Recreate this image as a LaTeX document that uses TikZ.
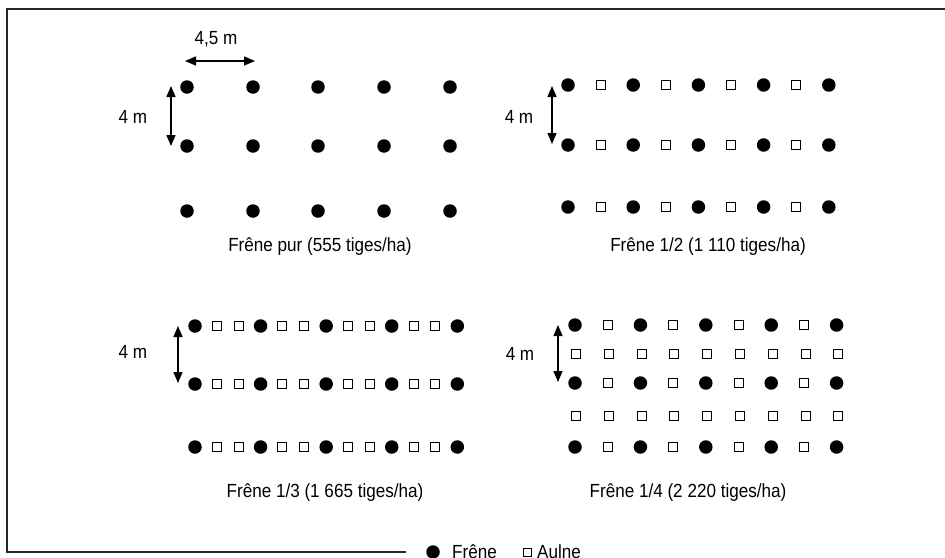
\documentclass[tikz,border=0pt]{standalone}
\usepackage{fontspec}
\setmainfont[FakeStretch=0.9]{Liberation Sans}
\usetikzlibrary{arrows.meta}

\tikzset{
	frene/.style={circle,fill=black,inner sep=0pt,minimum size=13.5pt},
	aulne/.style={draw=black,line width=1pt,fill=white,inner sep=0pt,minimum size=9pt},
	cote/.style={line width=1.3pt,{Triangle[length=11pt,width=9pt]}-{Triangle[length=11pt,width=9pt]}},
	cadre/.style={line width=2pt,black!85},
	txt/.style={anchor=base,inner sep=0pt}
}

\begin{document}
\begin{tikzpicture}[x=1pt,y=-1pt,font=\fontsize{19}{21}\selectfont]
	\useasboundingbox (0,0) rectangle (945,557);
	\draw[cadre] (945,9) -- (7,9) -- (7,552) -- (406,552);
	
	% Frene pur
	\foreach \x [count=\c] in {187,253,318,384,450}
		\foreach \y [count=\r] in {87,146,211}
			\node[frene] (a-\c-\r) at (\x,\y) {};
	\coordinate (ha) at (185,61);
	\coordinate (hb) at (255,61);
	\draw[cote] (ha) -- (hb);
	\node[txt] (la) at (216,44.5) {4,5 m};
	\coordinate (va) at (171,86);
	\coordinate (vb) at (171,146);
	\draw[cote] (va) -- (vb);
	\node[txt] (lb) at (133,123) {4 m};
	\node[txt] (ta) at (320,251) {Frêne pur (555 tiges/ha)};
	
	% Frene 1/2
	\foreach \i in {0,2,4,6,8}
		\foreach \y [count=\r] in {85,145,207}
			\node[frene] (b-\i-\r) at (568+32.6*\i,\y) {};
	\foreach \i in {1,3,5,7}
		\foreach \y [count=\r] in {85,145,207}
			\node[aulne] (b-\i-\r) at (568+32.6*\i,\y) {};
	\coordinate (vc) at (552,86);
	\coordinate (vd) at (552,144);
	\draw[cote] (vc) -- (vd);
	\node[txt] (lc) at (519,123) {4 m};
	\node[txt] (tb) at (708,251) {Frêne 1/2 (1 110 tiges/ha)};
	
	% Frene 1/3
	\foreach \i in {0,3,6,9,12}
		\foreach \y [count=\r] in {326,384,447}
			\node[frene] (c-\i-\r) at (195+21.86*\i,\y) {};
	\foreach \i in {1,2,4,5,7,8,10,11}
		\foreach \y [count=\r] in {326,384,447}
			\node[aulne] (c-\i-\r) at (195+21.86*\i,\y) {};
	\coordinate (ve) at (178,326);
	\coordinate (vf) at (178,383);
	\draw[cote] (ve) -- (vf);
	\node[txt] (ld) at (133,358) {4 m};
	\node[txt] (tc) at (325,497.5) {Frêne 1/3 (1 665 tiges/ha)};
	
	% Frene 1/4
	\foreach \i in {0,2,4,6,8}
		\foreach \y [count=\r] in {325,383,447}
			\node[frene] (d-\i-\r) at (575+32.7*\i,\y) {};
	\foreach \i in {1,3,5,7}
		\foreach \y [count=\r] in {325,383,447}
			\node[aulne] (d-\i-\r) at (575+32.7*\i,\y) {};
	\foreach \i in {0,...,8}
		\foreach \y [count=\r] in {354,416}
			\node[aulne] (e-\i-\r) at (576+32.8*\i,\y) {};
	\coordinate (vg) at (558,325);
	\coordinate (vh) at (558,382);
	\draw[cote] (vg) -- (vh);
	\node[txt] (le) at (520,360) {4 m};
	\node[txt] (td) at (688,497.5) {Frêne 1/4 (2 220 tiges/ha)};
	
	% legende
	\node[frene] (kf) at (433,552) {};
	\node[txt,anchor=base west] (kft) at (452,558) {Frêne};
	\node[aulne,minimum size=8pt] (ka) at (527,552) {};
	\node[txt,anchor=base west] (kat) at (537,558) {Aulne};
\end{tikzpicture}
\end{document}
